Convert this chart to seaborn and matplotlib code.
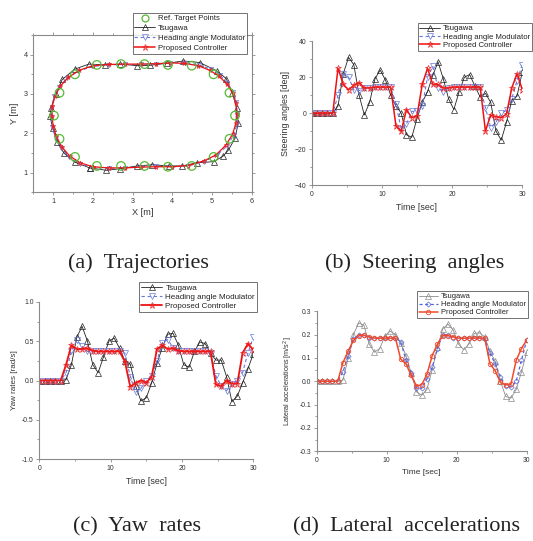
import numpy as np
import pandas as pd
import matplotlib
matplotlib.use("Agg")
import matplotlib.pyplot as plt
from matplotlib.ticker import MultipleLocator, FormatStrFormatter
from matplotlib.lines import Line2D
import seaborn as sns

sns.set_style("ticks")
plt.rcParams['font.family'] = ['Liberation Sans', 'DejaVu Sans']

# ---------------- data ----------------
time = [0.75 * k for k in range(41)]

steer_tsugawa = [0, 0, 0, 0, 0, 4, 22, 31, 27, 10, -1, 6, 19, 24, 18.5, 10, 4, 0, -12, -13.5,
                 -3, 6, 12, 21, 28.5, 19, 8, 2, 12, 20, 21.5, 15, 9, 11, 6, -10, -15, -5, 7, 9.5, 23]
steer_ham = [0, 0, 0, 0, 0, 10, 22, 20, 13, 12.5, 14, 14, 14.5, 14.5, 14.5, 14.5, 5, -9, -6, 1,
             1, 4, 20, 26, 14, 12, 14, 14.5, 14.5, 14.5, 14.5, 14.5, 14.5, 3, -8, -5, 0, 1.5, 8, 18, 27]
steer_prop = [0, 0, 0, 0, 0, 25, 16, 13, 15.5, 17, 14, 14, 14.5, 14.5, 14.5, 14.5, -7, -10, 2, -2.5,
              -1.5, 16, 25, 16, 16, 14, 14, 14.5, 14.5, 14.5, 14.5, 14.5, 14.5, -10, -1, -2, -2.5, -0.5, 14, 22, 13]

yaw_tsugawa = [0, 0, 0, 0, 0, 0.01, 0.2, 0.55, 0.69, 0.5, 0.2, 0.1, 0.3, 0.5, 0.54, 0.41, 0.25, 0.21, -0.07, -0.26,
               -0.22, -0.03, 0.22, 0.42, 0.59, 0.6, 0.45, 0.2, 0.17, 0.37, 0.49, 0.47, 0.35, 0.26, 0.26, 0.05, -0.27, -0.2, -0.03, 0.15, 0.34]
yaw_ham = [0, 0, 0, 0, 0, 0.1, 0.38, 0.51, 0.44, 0.37, 0.37, 0.37, 0.37, 0.37, 0.37, 0.37, 0.35, 0.05, -0.15, -0.1,
           0, 0.06, 0.25, 0.48, 0.52, 0.42, 0.37, 0.37, 0.37, 0.37, 0.37, 0.37, 0.34, 0.06, -0.07, -0.13, -0.05, 0, 0.1, 0.35, 0.55]
yaw_prop = [0, 0, 0, 0, 0, 0.2, 0.45, 0.4, 0.4, 0.41, 0.38, 0.37, 0.37, 0.37, 0.37, 0.37, 0.24, -0.08, -0.03, 0,
            -0.03, 0.05, 0.4, 0.45, 0.4, 0.41, 0.38, 0.37, 0.37, 0.37, 0.37, 0.37, 0.37, -0.05, -0.07, 0, -0.04, -0.04, 0.35, 0.47, 0.39]

lat_tsugawa = [0, 0, 0, 0, 0, 0.005, 0.1, 0.2, 0.25, 0.24, 0.16, 0.125, 0.14, 0.195, 0.215, 0.2, 0.166, 0.11, 0.035, -0.045,
               -0.06, -0.035, 0.05, 0.145, 0.225, 0.245, 0.22, 0.16, 0.135, 0.16, 0.205, 0.208, 0.19, 0.13, 0.085, 0.0, -0.065, -0.072, -0.035, 0.04, 0.125]
lat_ham = [0, 0, 0, 0, 0, 0.04, 0.11, 0.18, 0.2, 0.198, 0.185, 0.185, 0.185, 0.185, 0.185, 0.185, 0.17, 0.09, 0.035, -0.028,
           -0.03, 0.01, 0.06, 0.14, 0.2, 0.2, 0.185, 0.185, 0.185, 0.185, 0.185, 0.185, 0.18, 0.12, 0.075, 0.02, -0.02, -0.025, 0.0, 0.09, 0.177]
lat_prop = [0, 0, 0, 0, 0, 0.08, 0.13, 0.175, 0.195, 0.198, 0.19, 0.185, 0.185, 0.185, 0.185, 0.185, 0.095, 0.075, 0.025, -0.02,
            -0.015, 0.03, 0.11, 0.16, 0.195, 0.196, 0.19, 0.185, 0.185, 0.185, 0.185, 0.185, 0.185, 0.075, 0.045, -0.005, -0.015, -0.012, 0.09, 0.14, 0.177]

ref_x = [1.02, 1.16, 1.16, 1.55, 1.55, 2.1, 2.1, 2.71, 2.71, 3.3, 3.3, 3.89, 3.89, 4.49, 4.49, 5.04, 5.04, 5.44, 5.44, 5.58]
ref_y = [2.45, 3.03, 1.86, 3.5, 1.4, 3.74, 1.17, 3.76, 1.17, 3.76, 1.17, 3.74, 1.15, 3.72, 1.17, 3.5, 1.4, 3.03, 1.86, 2.45]

traj_ts_x = [1.92, 2.34, 2.69, 3.11, 3.49, 3.91, 4.24, 4.62, 5.05, 5.28, 5.41, 5.58, 5.66, 5.62, 5.51, 5.36, 5.12, 4.69,
             4.28, 3.86, 3.45, 3.11, 2.69, 2.31, 1.9, 1.54, 1.23, 1.06, 0.95, 0.92, 0.99, 1.1, 1.27, 1.54, 1.92]
traj_ts_y = [1.12, 1.06, 1.1, 1.17, 1.2, 1.17, 1.17, 1.25, 1.28, 1.42, 1.57, 1.87, 2.26, 2.65, 3.03, 3.39, 3.59, 3.8,
             3.84, 3.78, 3.73, 3.72, 3.76, 3.74, 3.76, 3.63, 3.37, 3.0, 2.65, 2.43, 2.13, 1.79, 1.5, 1.27, 1.12]
traj_ham_x = [2.0, 2.4, 2.8, 3.2, 3.6, 4.0, 4.4, 4.8, 5.12, 5.38, 5.55, 5.63, 5.64, 5.61, 5.53, 5.39, 5.2, 4.97, 4.67,
              4.32, 3.95, 3.6, 3.2, 2.8, 2.4, 2.0, 1.63, 1.35, 1.15, 1.02, 0.96, 0.95, 0.98, 1.06, 1.2, 1.4, 1.67, 2.0]
traj_ham_y = [1.13, 1.11, 1.12, 1.15, 1.16, 1.15, 1.17, 1.28, 1.44, 1.68, 1.96, 2.24, 2.5, 2.8, 3.05, 3.28, 3.48, 3.63, 3.74,
              3.8, 3.8, 3.77, 3.75, 3.75, 3.74, 3.7, 3.58, 3.4, 3.18, 2.94, 2.68, 2.42, 2.15, 1.88, 1.62, 1.4, 1.22, 1.13]
traj_prop_x = [2.0, 2.4, 2.8, 3.2, 3.6, 4.0, 4.4, 4.8, 5.1, 5.35, 5.52, 5.6, 5.62, 5.6, 5.52, 5.38, 5.18, 4.95, 4.65,
               4.3, 3.95, 3.6, 3.2, 2.8, 2.4, 2.0, 1.65, 1.38, 1.18, 1.05, 0.98, 0.97, 1.0, 1.08, 1.22, 1.42, 1.68, 2.0]
traj_prop_y = [1.15, 1.12, 1.12, 1.14, 1.15, 1.15, 1.18, 1.3, 1.45, 1.7, 1.98, 2.25, 2.5, 2.78, 3.02, 3.25, 3.45, 3.6, 3.72,
               3.78, 3.79, 3.77, 3.76, 3.76, 3.75, 3.72, 3.6, 3.42, 3.2, 2.95, 2.7, 2.45, 2.18, 1.92, 1.65, 1.42, 1.25, 1.15]

labels = ["Tsugawa", "Heading angle Modulator", "Proposed Controller"]

# ---------------- figure ----------------
W, H = 533, 541
fig = plt.figure(figsize=(W / 100, H / 100), dpi=100)


def ax_px(l, t, r, b):
    return fig.add_axes([l / W, 1 - b / H, (r - l) / W, (b - t) / H])


GRAY = "#8a8a8a"
TXT = "#333333"


def style(ax, xlim, ylim, xmaj, ymaj, xmin, ymin, box=False, lsize=4.9):
    ax.set_xlim(*xlim)
    ax.set_ylim(*ylim)
    ax.xaxis.set_major_locator(MultipleLocator(xmaj))
    ax.yaxis.set_major_locator(MultipleLocator(ymaj))
    ax.xaxis.set_minor_locator(MultipleLocator(xmin))
    ax.yaxis.set_minor_locator(MultipleLocator(ymin))
    for s in ["left", "bottom", "top", "right"]:
        ax.spines[s].set_color(GRAY)
        ax.spines[s].set_linewidth(0.8)
        if not box and s in ("top", "right"):
            ax.spines[s].set_visible(False)
    ax.tick_params(which="both", direction="out", color=GRAY, width=0.6,
                   labelsize=lsize, labelcolor=TXT, pad=1.5,
                   top=box, right=box)
    ax.tick_params(which="major", length=2.5)
    ax.tick_params(which="minor", length=1.5)


ts_kw = dict(color="#222222", lw=0.6, marker="^", markersize=4.3, markerfacecolor="none",
             markeredgecolor="#222222", markeredgewidth=0.5)
ham_kw = dict(color="#6678d8", lw=0.8, linestyle=(0, (3, 2.5)), marker="v", markersize=4.2,
              markerfacecolor="none", markeredgecolor="#6678d8", markeredgewidth=0.5)
prop_kw = dict(color="#ee1111", lw=1.1, marker="*", markersize=4.8, markerfacecolor="none",
               markeredgecolor="#ee2222", markeredgewidth=0.5)


def legend(ax, handles, labs, right, top, fs=5.4, spacing=0.25):
    lg = ax.legend(handles, labs, loc="upper right",
                   bbox_to_anchor=(right / W, 1 - top / H), bbox_transform=fig.transFigure,
                   fontsize=fs, frameon=True, fancybox=False, edgecolor="#333333",
                   borderpad=0.25, labelspacing=spacing, handlelength=2.6, handletextpad=0.4,
                   borderaxespad=0)
    lg.get_frame().set_linewidth(0.6)
    lg.set_zorder(10)
    for t in lg.get_texts():
        t.set_color("#222222")
    return lg


# ---- (a) trajectories ----
axa = ax_px(33.3, 35, 251.7, 192.3)
sns.scatterplot(x=ref_x, y=ref_y, ax=axa, marker="o", s=38, facecolor="none",
                edgecolor="#55bb33", linewidth=0.9, zorder=5)
sns.lineplot(x=traj_ts_x, y=traj_ts_y, ax=axa, sort=False, estimator=None, **{**ts_kw, "markersize": 3.8})
sns.lineplot(x=traj_ham_x, y=traj_ham_y, ax=axa, sort=False, estimator=None, **{**ham_kw, "markersize": 3})
sns.lineplot(x=traj_prop_x, y=traj_prop_y, ax=axa, sort=False, estimator=None, **{**prop_kw, "markersize": 3.5, "lw": 0.9})
style(axa, (0.5, 6), (0.5, 4.5), 1, 1, 0.5, 0.5, box=True, lsize=5.2)
axa.set_xlabel("X [m]", fontsize=6.6, color=TXT, labelpad=2)
axa.set_ylabel("Y [m]", fontsize=6.6, color=TXT, labelpad=3)
h_ref = Line2D([], [], linestyle="none", marker="o", markersize=5, markerfacecolor="none",
               markeredgecolor="#55bb33", markeredgewidth=0.9)
h_ts = Line2D([], [], **ts_kw)
h_ham = Line2D([], [], **ham_kw)
h_prop = Line2D([], [], **prop_kw)
legend(axa, [h_ref, h_ts, h_ham, h_prop], ["Ref. Target Points"] + labels, 247, 13, fs=5.6, spacing=0.3)

# ---- (b) steering angles ----
axb = ax_px(311.7, 41.3, 522.3, 185)
sns.lineplot(x=time, y=steer_tsugawa, ax=axb, **ts_kw)
sns.lineplot(x=time, y=steer_ham, ax=axb, **ham_kw)
sns.lineplot(x=time, y=steer_prop, ax=axb, **prop_kw)
style(axb, (0, 30), (-40, 40), 10, 20, 5, 10)
axb.set_xlabel("Time [sec]", fontsize=6.4, color=TXT, labelpad=4)
axb.set_ylabel("Steering angles [deg]", fontsize=6.4, color=TXT, labelpad=3)
legend(axb, [h_ts, h_ham, h_prop], labels, 532, 23, fs=5.6, spacing=0.12)

# ---- (c) yaw rates ----
axc = ax_px(39.3, 302, 253.3, 459)
sns.lineplot(x=time, y=yaw_tsugawa, ax=axc, **ts_kw)
sns.lineplot(x=time, y=yaw_ham, ax=axc, **ham_kw)
sns.lineplot(x=time, y=yaw_prop, ax=axc, **{**prop_kw, "lw": 1.3})
style(axc, (0, 30), (-1.0, 1.0), 10, 0.5, 5, 0.25)
axc.yaxis.set_major_formatter(FormatStrFormatter("%.1f"))
axc.set_xlabel("Time [sec]", fontsize=6.4, color=TXT, labelpad=4)
axc.set_ylabel("Yaw rates [rad/s]", fontsize=5.8, color=TXT, labelpad=3)
legend(axc, [h_ts, h_ham, Line2D([], [], **{**prop_kw, "lw": 1.3})], labels, 257, 282, fs=5.8, spacing=0.2)

# ---- (d) lateral accelerations ----
ts_d = dict(color="#8c8c8c", lw=0.6, marker="^", markersize=4.2, markerfacecolor="none",
            markeredgecolor="#8c8c8c", markeredgewidth=0.5)
ham_d = dict(color="#5566dd", lw=0.9, linestyle=(0, (2.5, 2)), marker="D", markersize=2.6,
             markerfacecolor="none", markeredgecolor="#5566dd", markeredgewidth=0.5)
prop_d = dict(color="#f04a2a", lw=1.1, marker="o", markersize=3.2, markerfacecolor="none",
              markeredgecolor="#f04a2a", markeredgewidth=0.6)
axd = ax_px(316.7, 311.3, 526.7, 451.3)
sns.lineplot(x=time, y=lat_tsugawa, ax=axd, **ts_d)
sns.lineplot(x=time, y=lat_ham, ax=axd, **ham_d)
sns.lineplot(x=time, y=lat_prop, ax=axd, **prop_d)
style(axd, (0, 30), (-0.3, 0.3), 10, 0.1, 5, 0.05)
axd.yaxis.set_major_formatter(FormatStrFormatter("%.1f"))
axd.set_xlabel("Time [sec]", fontsize=6.0, color=TXT, labelpad=4)
axd.set_ylabel("Lateral accelerations [m/s$^2$]", fontsize=5.2, color=TXT, labelpad=3)
legend(axd, [Line2D([], [], **ts_d), Line2D([], [], **ham_d), Line2D([], [], **prop_d)], labels,
       528, 291, fs=5.4, spacing=0.12)

# ---- captions ----
cap = dict(fontsize=16, family=["Liberation Serif", "DejaVu Serif"], color="#222222", va="center")
fig.text(68 / W, 1 - 263 / H, "(a)  Trajectories", ha="left", **cap)
fig.text(325 / W, 1 - 263 / H, "(b)  Steering  angles", ha="left", **cap)
fig.text(73 / W, 1 - 527 / H, "(c)  Yaw  rates", ha="left", **cap)
fig.text(293 / W, 1 - 527 / H, "(d)  Lateral  accelerations", ha="left", **cap)

fig.savefig("out.png", dpi=100, facecolor="white")
